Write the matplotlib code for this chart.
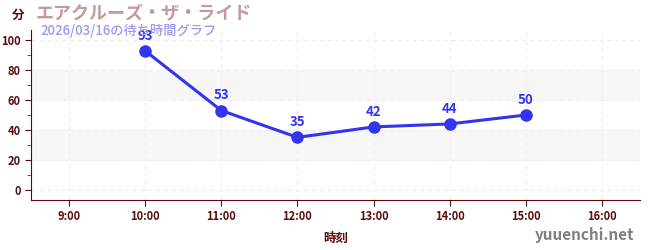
import matplotlib
matplotlib.use("Agg")
import matplotlib.pyplot as plt
from matplotlib.ticker import MultipleLocator

plt.rcParams['font.family'] = ['Noto Sans CJK JP', 'DejaVu Sans']

hours = [10, 11, 12, 13, 14, 15]
waits = [93, 53, 35, 42, 44, 50]
xtick_hours = [9, 10, 11, 12, 13, 14, 15, 16]
xtick_labels = ["9:00", "10:00", "11:00", "12:00", "13:00", "14:00", "15:00", "16:00"]
yticks = [0, 20, 40, 60, 80, 100]

axis_col = "#5a0a0a"
line_col = "#3333f0"

fig = plt.figure(figsize=(6.5, 2.5), dpi=100)
ax = fig.add_axes([31/650, 50/250, 609/650, 170/250])
ax.set_xlim(8.5, 16.5)
ax.set_ylim(-7, 107)

# shaded bands
for lo, hi in [(20, 40), (60, 80)]:
    ax.axhspan(lo, hi, color="#f7f7f7", zorder=0)

ax.grid(True, which="major", color="#efefef", linestyle=(0, (4, 3)), linewidth=0.8)
ax.set_axisbelow(True)

ax.plot(hours, waits, color=line_col, linewidth=2.2, marker="o", markersize=8, zorder=3)
for h, w in zip(hours, waits):
    ax.annotate(str(w), (h, w), xytext=(0, 6), textcoords="offset points",
                ha="center", va="bottom", color=line_col, fontsize=9.5, fontweight="bold")

ax.set_xticks(xtick_hours)
ax.set_xticklabels(xtick_labels)
ax.set_yticks(yticks)
ax.yaxis.set_minor_locator(MultipleLocator(10))
ax.tick_params(axis="both", which="major", colors=axis_col, labelsize=8, length=4)
ax.tick_params(axis="y", which="minor", colors="#cc0000", length=3)
for lbl in ax.get_xticklabels() + ax.get_yticklabels():
    lbl.set_color(axis_col)
    lbl.set_fontweight("bold")

for s in ["top", "right"]:
    ax.spines[s].set_visible(False)
ax.spines["left"].set_color(axis_col)
ax.spines["bottom"].set_color(axis_col)

ax.set_xlabel("時刻", color=axis_col, fontsize=9, fontweight="bold", labelpad=6)

fig.text(12/650, 1 - 15/250, "分", color=axis_col, fontsize=9, fontweight="bold", va="center")
fig.text(36/650, 1 - 14/250, "エアクルーズ・ザ・ライド", color="#c49a9a", fontsize=13,
         fontweight="bold", va="center")
fig.text(40/650, 1 - 31/250, "2026/03/16の待ち時間グラフ", color="#9999ee", fontsize=9.5,
         fontweight="medium", va="center")
fig.text(634/650, 1 - 235/250, "yuuenchi.net", color="#808080", fontsize=11,
         fontweight="bold", ha="right", va="center")

fig.savefig("out.png", dpi=100)
